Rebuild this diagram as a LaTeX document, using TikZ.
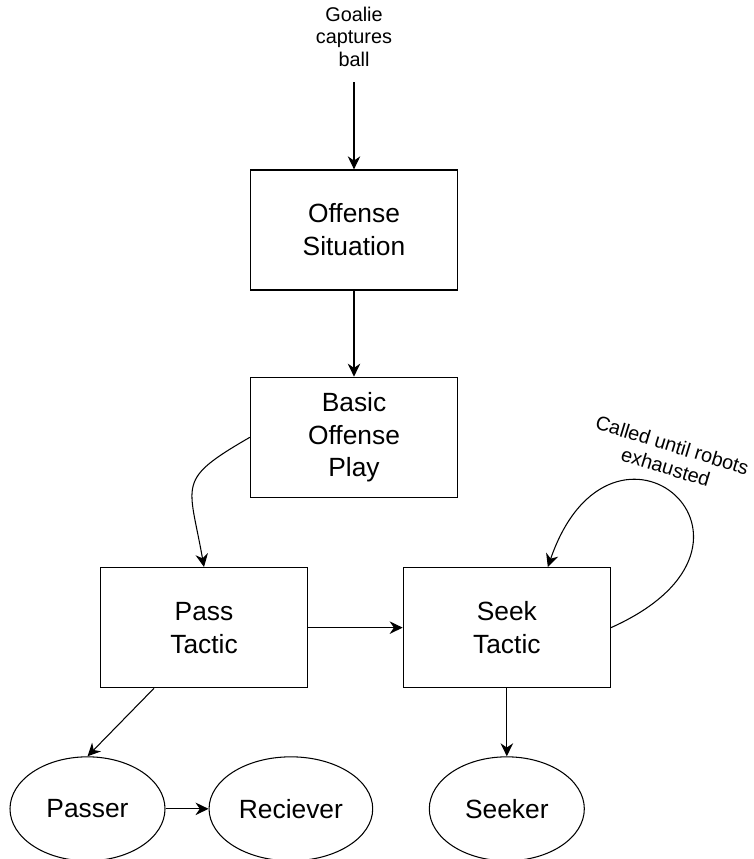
\documentclass[tikz,border=0pt]{standalone}
\usepackage{fontspec}
\setmainfont{Liberation Sans}
\usepackage{tikz}
\usetikzlibrary{shapes.geometric, arrows.meta, positioning}

\begin{document}
\begin{tikzpicture}[
    box/.style={rectangle, draw, line width=0.75pt, minimum width=4.14cm,
                minimum height=2.4cm, align=center, font=\fontsize{15}{18.7}\selectfont},
    role/.style={ellipse, draw, line width=0.6pt, minimum width=3.1cm,
                 minimum height=2.08cm, font=\fontsize{15}{18.7}\selectfont},
    note/.style={align=center, font=\fontsize{11.3}{13}\selectfont},
    arrow/.style={-{Stealth[length=2.6mm, width=2.5mm]}, line width=0.6pt}
]
\useasboundingbox (0,0) rectangle (15.08,-17.18);

\node[box] (offense) at (7.08,-4.6) {Offense\\Situation};
\node[note, inner sep=0.3cm, above=1.74cm of offense] (goal) {Goalie\\captures\\ball};
\node[box, below=1.72cm of offense] (basic) {Basic\\Offense\\Play};
\node[box, below=1.38cm of basic, xshift=-3cm] (pass) {Pass\\Tactic};
\node[box, right=1.89cm of pass] (seek) {Seek\\Tactic};
\node[role, below=1.36cm of pass, xshift=-2.33cm] (passer) {Passer};
\node[role, right=0.86cm of passer] (receiver) {Reciever};
\node[role, below=1.36cm of seek] (seeker) {Seeker};
\node[note, rotate=-17] (loopnote) at (13.38,-9.12) {Called until robots\\exhausted};

\draw[arrow] (goal) -- (offense);
\draw[arrow] (offense) -- (basic);
\draw[arrow] (basic.west) to[out=210, in=100, looseness=1.6] (pass.north);
\draw[arrow] (pass) -- (seek);
\draw[arrow] (seek.east) .. controls +(3.8,1.7) and +(1.28,3.7) .. ([xshift=0.82cm]seek.north);
\draw[arrow] ([xshift=-1cm]pass.south) -- (passer.north);
\draw[arrow] (passer) -- (receiver);
\draw[arrow] (seek) -- (seeker);
\end{tikzpicture}
\end{document}
